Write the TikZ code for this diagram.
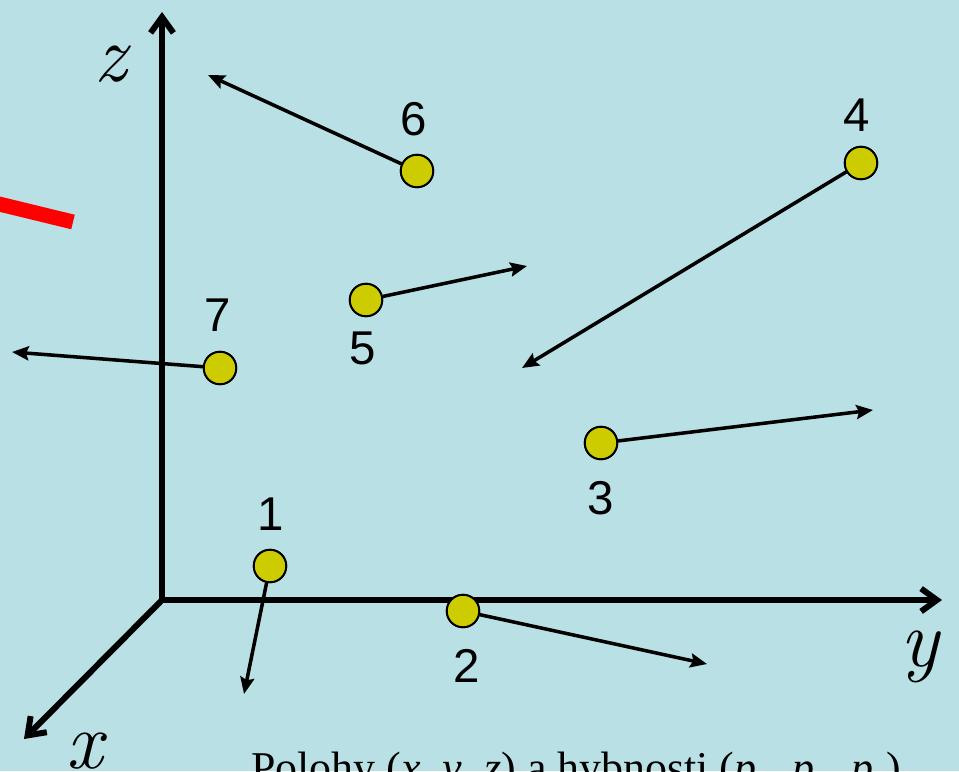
\documentclass[tikz,border=0pt]{standalone}
\usepackage{fontspec}
\newfontfamily\capfont{Liberation Serif}
\newfontfamily\digitfont{Liberation Sans}
\usetikzlibrary{arrows.meta}
\definecolor{bgc}{HTML}{B9E0E4}
\definecolor{ballc}{HTML}{CCCC00}
\begin{document}
\begin{tikzpicture}[x=0.02cm,y=-0.02cm,
  axis/.style={line width=3.4pt, line join=miter, arrows={Straight Barb[length=9pt,width=13pt]-Straight Barb[length=9pt,width=13pt]}},
  xaxis/.style={line width=3.4pt, arrows={-Straight Barb[length=9pt,width=13pt]}},
  ball/.style={circle, draw=black, line width=1.1pt, fill=ballc, minimum size=0.65cm, inner sep=0pt},
  mom/.style={line width=2pt, -{Stealth[length=9.5pt,width=8pt,inset=1.5pt]}},
  num/.style={font=\digitfont\fontsize{27}{30}\selectfont, inner sep=0pt},
  axlabel/.style={font=\fontsize{46}{50}\selectfont\itshape, inner sep=0pt, anchor=base}]
\useasboundingbox (0,0) rectangle (959,771);
\clip (0,0) rectangle (959,771);
\fill[bgc] (0,0) rectangle (959,771);

% axes
\coordinate (O) at (162,600);
\coordinate (ztip) at (162,12);
\coordinate (ytip) at (942,600);
\coordinate (xtip) at (24,739);
\draw[axis] (ztip) -- (O) -- (ytip);
\draw[xaxis] (O) -- (xtip);
\node[axlabel] (zl) at (111,81) {z};
\node[axlabel] (yl) at (920,666) {y};
\node[axlabel] (xl) at (85,768) {x};

% red segment
\coordinate (r1) at (-5,203);
\coordinate (r2) at (73,222);
\draw[red, line width=8.5pt] (r1) -- (r2);

% particles
\node[ball] (p1) at (270,566) {};
\node[ball] (p2) at (463,611) {};
\node[ball] (p3) at (601,443) {};
\node[ball] (p4) at (861,163) {};
\node[ball] (p5) at (366,300) {};
\node[ball] (p6) at (417,171) {};
\node[ball] (p7) at (220,368) {};

% momentum tips
\coordinate (t1) at (244,694);
\coordinate (t2) at (707,664);
\coordinate (t3) at (873,410);
\coordinate (t4) at (522,368);
\coordinate (t5) at (527,266);
\coordinate (t6) at (208,75);
\coordinate (t7) at (12,352);

\draw[mom] (p1) -- (t1);
\draw[mom] (p2) -- (t2);
\draw[mom] (p3) -- (t3);
\draw[mom] (p4) -- (t4);
\draw[mom] (p5) -- (t5);
\draw[mom] (p6) -- (t6);
\draw[mom] (p7) -- (t7);
% redraw balls on top of the axes
\foreach \p in {p1,p2,p3,p4,p5,p6,p7} {\node[ball] at (\p) {};}

% labels
\node[num] (l1) at (271,514) {1};
\node[num] (l2) at (467,666) {2};
\node[num] (l3) at (601,498) {3};
\node[num] (l4) at (857,115) {4};
\node[num] (l5) at (363,348) {5};
\node[num] (l6) at (414,119) {6};
\node[num] (l7) at (218,315) {7};

% caption (cut at bottom, as in the reference)
\node[font=\capfont\fontsize{25}{30}\selectfont, anchor=base west, inner sep=0pt] (cap) at (251,782)
  {Polohy (\textit{x}, \textit{y}, \textit{z}) a hybnosti (\textit{p}\textsubscript{\textit{x}}, \textit{p}\textsubscript{\textit{y}}, \textit{p}\textsubscript{\textit{z}})};
\end{tikzpicture}
\end{document}
